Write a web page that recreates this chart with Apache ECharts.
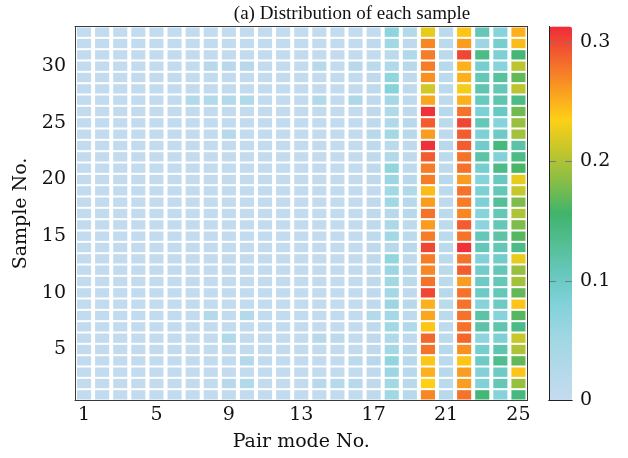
<!DOCTYPE html>
<html>
<head>
<meta charset="utf-8">
<script src="https://cdn.jsdelivr.net/npm/echarts@6/dist/echarts.min.js"></script>
<style>html,body{margin:0;padding:0;background:#fff;}#c{width:628px;height:458px;}</style>
</head>
<body>
<div id="c"></div>
<script>
// Categories
const pairModes = ['1','2','3','4','5','6','7','8','9','10','11','12','13','14','15','16','17','18','19','20','21','22','23','24','25'];
const samples = ['1','2','3','4','5','6','7','8','9','10','11','12','13','14','15','16','17','18','19','20','21','22','23','24','25','26','27','28','29','30','31','32','33'];
const colorbarTicks = [0, 0.1, 0.2, 0.3];

// Values per pair mode, samples 1 -> 33
const mode1  = [0.005,0.005,0.005,0.005,0.005,0.005,0.005,0.005,0.005,0.005,0.005,0.005,0.005,0.005,0.005,0.005,0.005,0.005,0.005,0.005,0.005,0.005,0.005,0.005,0.005,0.005,0.005,0.005,0.005,0.005,0.005,0.005,0.005];
const mode2  = [0.005,0.005,0.005,0.005,0.005,0.005,0.005,0.005,0.005,0.005,0.005,0.005,0.005,0.005,0.005,0.005,0.005,0.005,0.005,0.005,0.005,0.005,0.005,0.005,0.005,0.005,0.005,0.005,0.005,0.005,0.005,0.005,0.005];
const mode3  = [0.005,0.005,0.005,0.005,0.005,0.005,0.005,0.005,0.005,0.005,0.005,0.005,0.005,0.005,0.005,0.005,0.005,0.005,0.005,0.005,0.005,0.005,0.005,0.005,0.005,0.005,0.005,0.005,0.005,0.005,0.005,0.005,0.005];
const mode4  = [0.005,0.005,0.005,0.005,0.005,0.005,0.005,0.005,0.005,0.005,0.005,0.005,0.005,0.005,0.005,0.005,0.005,0.005,0.005,0.005,0.005,0.005,0.005,0.005,0.005,0.005,0.005,0.005,0.005,0.005,0.005,0.005,0.005];
const mode5  = [0.005,0.005,0.005,0.005,0.005,0.005,0.005,0.005,0.005,0.005,0.005,0.005,0.005,0.005,0.005,0.005,0.005,0.005,0.005,0.005,0.005,0.005,0.005,0.005,0.005,0.005,0.005,0.005,0.005,0.005,0.005,0.005,0.005];
const mode6  = [0.005,0.005,0.005,0.005,0.005,0.005,0.005,0.005,0.005,0.005,0.005,0.005,0.005,0.005,0.005,0.005,0.005,0.005,0.005,0.005,0.005,0.005,0.005,0.005,0.005,0.005,0.005,0.005,0.005,0.005,0.005,0.005,0.005];
const mode7  = [0.005,0.005,0.005,0.005,0.005,0.005,0.005,0.005,0.005,0.005,0.005,0.005,0.005,0.005,0.005,0.005,0.005,0.005,0.005,0.005,0.005,0.005,0.005,0.005,0.005,0.005,0.025,0.005,0.005,0.005,0.005,0.005,0.005];
const mode8  = [0.005,0.005,0.005,0.005,0.005,0.005,0.005,0.025,0.005,0.005,0.005,0.005,0.005,0.005,0.005,0.005,0.005,0.005,0.005,0.005,0.005,0.005,0.005,0.005,0.005,0.005,0.025,0.005,0.005,0.02,0.005,0.005,0.005];
const mode9  = [0.005,0.02,0.005,0.005,0.005,0.03,0.005,0.005,0.005,0.005,0.005,0.005,0.005,0.005,0.005,0.005,0.005,0.005,0.005,0.005,0.005,0.005,0.005,0.02,0.005,0.005,0.025,0.005,0.005,0.02,0.005,0.005,0.005];
const mode10 = [0.005,0.03,0.005,0.025,0.005,0.005,0.005,0.025,0.005,0.005,0.005,0.005,0.005,0.005,0.005,0.005,0.005,0.005,0.005,0.005,0.005,0.005,0.005,0.005,0.005,0.005,0.03,0.005,0.005,0.02,0.005,0.005,0.005];
const mode11 = [0.005,0.005,0.005,0.005,0.005,0.005,0.005,0.005,0.005,0.005,0.005,0.005,0.005,0.005,0.005,0.005,0.005,0.005,0.005,0.005,0.005,0.005,0.005,0.005,0.005,0.005,0.005,0.005,0.005,0.005,0.005,0.005,0.005];
const mode12 = [0.005,0.005,0.005,0.005,0.005,0.005,0.005,0.005,0.005,0.005,0.005,0.005,0.005,0.005,0.005,0.005,0.005,0.005,0.005,0.005,0.005,0.005,0.005,0.005,0.005,0.005,0.005,0.005,0.005,0.005,0.005,0.005,0.005];
const mode13 = [0.005,0.005,0.005,0.005,0.005,0.005,0.005,0.005,0.005,0.005,0.005,0.005,0.005,0.005,0.005,0.005,0.005,0.005,0.005,0.005,0.005,0.005,0.005,0.005,0.005,0.005,0.005,0.005,0.005,0.005,0.005,0.005,0.005];
const mode14 = [0.005,0.02,0.005,0.005,0.005,0.02,0.005,0.005,0.005,0.005,0.005,0.005,0.005,0.005,0.005,0.005,0.005,0.005,0.005,0.005,0.005,0.005,0.005,0.005,0.005,0.005,0.025,0.005,0.005,0.02,0.005,0.005,0.005];
const mode15 = [0.005,0.025,0.005,0.005,0.005,0.015,0.005,0.005,0.005,0.005,0.005,0.005,0.005,0.005,0.005,0.005,0.005,0.005,0.005,0.005,0.005,0.005,0.005,0.005,0.005,0.005,0.005,0.005,0.005,0.005,0.005,0.005,0.005];
const mode16 = [0.005,0.02,0.005,0.015,0.005,0.005,0.005,0.005,0.005,0.005,0.005,0.005,0.005,0.005,0.005,0.005,0.005,0.005,0.005,0.005,0.005,0.005,0.005,0.005,0.005,0.005,0.035,0.005,0.005,0.02,0.005,0.005,0.005];
const mode17 = [0.01,0.01,0.01,0.02,0.01,0.01,0.01,0.025,0.01,0.01,0.01,0.01,0.01,0.01,0.01,0.01,0.01,0.01,0.005,0.01,0.01,0.01,0.01,0.02,0.01,0.01,0.01,0.01,0.01,0.015,0.005,0.01,0.005];
const mode18 = [0.05,0.045,0.055,0.065,0.045,0.03,0.05,0.045,0.055,0.045,0.05,0.055,0.065,0.02,0.05,0.035,0.02,0.05,0.045,0.055,0.065,0.03,0.015,0.045,0.03,0.03,0.045,0.075,0.065,0.03,0.015,0.05,0.07];
const mode19 = [0.02,0.02,0.02,0.02,0.02,0.01,0.03,0.01,0.02,0.01,0.015,0.02,0.01,0.02,0.015,0.01,0.02,0.02,0.03,0.02,0.01,0.01,0.01,0.02,0.02,0.01,0.01,0.01,0.01,0.02,0.03,0.01,0.025];
const mode20 = [0.27,0.235,0.25,0.24,0.28,0.285,0.24,0.255,0.25,0.30,0.28,0.27,0.275,0.30,0.275,0.26,0.28,0.26,0.245,0.275,0.275,0.29,0.31,0.26,0.29,0.31,0.255,0.215,0.265,0.275,0.275,0.27,0.225];
const mode21 = [0.02,0.015,0.02,0.015,0.02,0.015,0.01,0.015,0.015,0.02,0.015,0.015,0.015,0.015,0.015,0.01,0.015,0.01,0.015,0.02,0.01,0.015,0.02,0.01,0.015,0.02,0.01,0.015,0.015,0.02,0.015,0.015,0.015];
const mode22 = [0.28,0.26,0.26,0.24,0.265,0.285,0.28,0.28,0.28,0.28,0.26,0.29,0.28,0.31,0.28,0.29,0.27,0.275,0.28,0.26,0.28,0.28,0.29,0.29,0.30,0.28,0.25,0.23,0.25,0.25,0.30,0.26,0.24];
const mode23 = [0.15,0.08,0.08,0.10,0.09,0.07,0.12,0.12,0.075,0.10,0.10,0.095,0.08,0.11,0.11,0.07,0.075,0.085,0.085,0.075,0.09,0.12,0.095,0.085,0.11,0.085,0.105,0.115,0.11,0.09,0.14,0.055,0.11];
const mode24 = [0.075,0.11,0.10,0.135,0.115,0.085,0.115,0.075,0.10,0.11,0.11,0.11,0.095,0.11,0.12,0.11,0.11,0.13,0.11,0.105,0.14,0.08,0.145,0.10,0.075,0.105,0.115,0.11,0.125,0.075,0.085,0.09,0.075];
const mode25 = [0.145,0.19,0.24,0.17,0.20,0.21,0.14,0.165,0.24,0.17,0.195,0.19,0.225,0.14,0.165,0.18,0.20,0.18,0.21,0.225,0.16,0.14,0.12,0.195,0.19,0.175,0.14,0.205,0.17,0.205,0.15,0.245,0.25];

const modeValues = [mode1,mode2,mode3,mode4,mode5,mode6,mode7,mode8,mode9,mode10,mode11,mode12,mode13,mode14,mode15,mode16,mode17,mode18,mode19,mode20,mode21,mode22,mode23,mode24,mode25];

const data = [];
modeValues.forEach((col, xi) => col.forEach((v, yi) => data.push([xi, yi, v])));

const serif = 'DejaVu Serif';
const titleFont = 'Liberation Serif';
const axisColor = '#3a3a3a';
const tickColor = '#888';
const txt = '#111';

const chart = echarts.init(document.getElementById('c'), null, {renderer: 'canvas'});
chart.setOption({
  animation: false,
  title: {
    text: '(a) Distribution of each sample',
    left: 347, top: 0, textAlign: 'center',
    textStyle: {fontFamily: titleFont, fontSize: 19, fontWeight: 'normal', color: txt}
  },
  grid: [
    {left: 75, right: 100.5, top: 26.5, bottom: 57.5},
    {left: 549, width: 23, top: 26.5, height: 374}
  ],
  xAxis: [
    {type: 'category', data: pairModes, gridIndex: 0, position: 'bottom', z: 10,
     name: 'Pair mode No.', nameLocation: 'middle', nameGap: 32,
     nameTextStyle: {fontFamily: serif, fontSize: 19, color: txt},
     axisLine: {lineStyle: {color: axisColor, width: 1}},
     axisTick: {inside: true, alignWithLabel: true, interval: 3, length: 4, lineStyle: {color: tickColor}},
     axisLabel: {interval: 3, margin: 5, fontFamily: serif, fontSize: 19, color: txt},
     splitLine: {show: false}},
    {type: 'category', data: pairModes, gridIndex: 0, position: 'top', z: 10,
     axisLine: {lineStyle: {color: axisColor, width: 1}},
     axisTick: {inside: true, alignWithLabel: true, interval: 3, length: 4, lineStyle: {color: tickColor}},
     axisLabel: {show: false}, splitLine: {show: false}},
    {type: 'value', gridIndex: 1, position: 'bottom', min: 0, max: 1, z: 10, zlevel: 1,
     axisLine: {show: true, lineStyle: {color: '#222'}}, axisTick: {show: false}, axisLabel: {show: false}, splitLine: {show: false}},
    {type: 'value', gridIndex: 1, position: 'top', min: 0, max: 1, z: 10, zlevel: 1,
     axisLine: {show: true, lineStyle: {color: '#222'}}, axisTick: {show: false}, axisLabel: {show: false}, splitLine: {show: false}}
  ],
  yAxis: [
    {type: 'category', data: samples, gridIndex: 0, position: 'left', z: 10,
     name: 'Sample No.', nameLocation: 'middle', nameGap: 38, nameRotate: 90,
     nameTextStyle: {fontFamily: serif, fontSize: 19, color: txt},
     axisLine: {lineStyle: {color: axisColor, width: 1}},
     axisTick: {inside: true, alignWithLabel: true, interval: (i) => (i + 1) % 5 === 0, length: 4, lineStyle: {color: tickColor}},
     axisLabel: {interval: (i) => (i + 1) % 5 === 0, margin: 9, fontFamily: serif, fontSize: 19, color: txt},
     splitLine: {show: false}},
    {type: 'category', data: samples, gridIndex: 0, position: 'right', z: 10,
     axisLine: {lineStyle: {color: axisColor, width: 1}},
     axisTick: {inside: true, alignWithLabel: true, interval: (i) => (i + 1) % 5 === 0, length: 4, lineStyle: {color: tickColor}},
     axisLabel: {show: false}, splitLine: {show: false}},
    {type: 'value', gridIndex: 1, position: 'left', min: 0, max: 0.313, interval: 0.1, z: 10, zlevel: 1,
     axisLine: {show: true, lineStyle: {color: '#222'}},
     axisTick: {show: false},
     axisLabel: {show: false},
     splitLine: {show: true, showMinLine: false, showMaxLine: false, lineStyle: {color: '#7a7a7a', width: 1, type: [7, 9]}}},
    {type: 'value', gridIndex: 1, position: 'right', min: 0, max: 0.313, interval: 0.1, z: 10, zlevel: 1,
     axisLine: {show: true, lineStyle: {color: '#222'}},
     axisTick: {show: false},
     axisLabel: {show: true, showMaxLabel: false, margin: 8, fontFamily: serif, fontSize: 19, color: txt,
       formatter: (v) => {
         const t = colorbarTicks.find(c => Math.abs(c - v) < 1e-9);
         return t === undefined ? '' : String(t);
       }},
     splitLine: {show: false}}
  ],
  visualMap: {
    type: 'continuous', min: 0, max: 0.313, dimension: 2, seriesIndex: 0,
    left: 549, top: 26.5, itemWidth: 23, itemHeight: 374, padding: 0,
    calculable: false, hoverLink: false, showLabel: false, text: null, z: 4,
    inRange: {color: ['#c6dbef','#b3d9ea','#a0d7e3','#84d2db','#68c9c0','#54bf95','#3fb46c','#85bd48','#c3c62c','#fdd016','#f99a20','#f3632e','#ee2a3a']}
  },
  series: [{
    type: 'custom',
    xAxisIndex: 0, yAxisIndex: 0,
    encode: {x: 0, y: 1},
    data: data,
    renderItem: function (params, api) {
      const c = api.coord([api.value(0), api.value(1)]);
      const s = api.size([1, 1]);
      const w = s[0] - 4, h = s[1] - 2;
      return {type: 'rect', shape: {x: c[0] - w / 2, y: c[1] - h / 2, width: w, height: h},
              style: {fill: api.visual('color')}};
    }
  }]
});
</script>
</body>
</html>
